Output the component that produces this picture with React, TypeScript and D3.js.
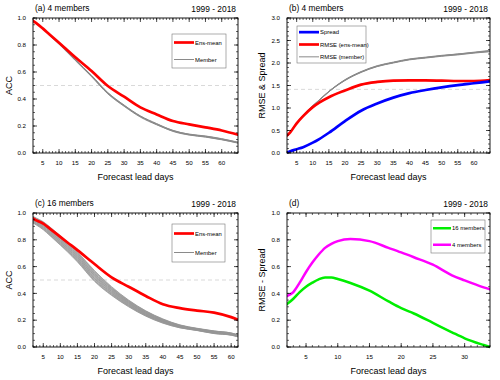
import React from "react";
import * as d3 from "d3";

// ---------- DATA ----------
const daysAB = [2, 3, 5, 7, 10, 12, 15, 20, 25, 30, 35, 40, 45, 50, 55, 60, 65];
const ensMeanA = [0.978, 0.962, 0.923, 0.88, 0.817, 0.774, 0.709, 0.607, 0.496, 0.417, 0.338, 0.286, 0.237, 0.212, 0.19, 0.167, 0.136];
const memberA1 = [0.977, 0.96, 0.921, 0.876, 0.81, 0.763, 0.69, 0.572, 0.445, 0.352, 0.272, 0.215, 0.168, 0.138, 0.124, 0.104, 0.078];
const memberA2 = [0.976, 0.959, 0.919, 0.873, 0.806, 0.758, 0.685, 0.565, 0.438, 0.346, 0.266, 0.209, 0.163, 0.135, 0.12, 0.1, 0.075];
const memberA3 = [0.977, 0.96, 0.92, 0.875, 0.808, 0.761, 0.688, 0.568, 0.442, 0.35, 0.27, 0.212, 0.16, 0.133, 0.118, 0.098, 0.073];
const memberA4 = [0.978, 0.961, 0.922, 0.877, 0.811, 0.764, 0.692, 0.575, 0.448, 0.355, 0.275, 0.218, 0.166, 0.14, 0.126, 0.106, 0.08];

const spreadB = [0.015, 0.04, 0.085, 0.13, 0.23, 0.31, 0.45, 0.71, 0.94, 1.1, 1.23, 1.33, 1.4, 1.46, 1.51, 1.55, 1.59];
const rmseMeanB = [0.39, 0.46, 0.66, 0.82, 1.02, 1.12, 1.24, 1.39, 1.52, 1.58, 1.61, 1.615, 1.615, 1.61, 1.6, 1.6, 1.62];
const rmseMemB1 = [0.4, 0.47, 0.67, 0.83, 1.05, 1.17, 1.36, 1.62, 1.8, 1.93, 2.01, 2.08, 2.12, 2.16, 2.19, 2.23, 2.26];
const rmseMemB2 = [0.4, 0.47, 0.67, 0.84, 1.05, 1.18, 1.37, 1.63, 1.81, 1.94, 2.02, 2.09, 2.13, 2.17, 2.2, 2.24, 2.28];
const rmseMemB3 = [0.4, 0.47, 0.67, 0.83, 1.04, 1.17, 1.36, 1.61, 1.79, 1.92, 2.0, 2.07, 2.11, 2.15, 2.18, 2.22, 2.25];
const rmseMemB4 = [0.4, 0.47, 0.67, 0.84, 1.05, 1.18, 1.37, 1.62, 1.8, 1.93, 2.01, 2.08, 2.12, 2.16, 2.2, 2.23, 2.27];

const daysC = [2, 3, 5, 7, 10, 12, 15, 20, 25, 30, 35, 40, 45, 50, 55, 60, 62];
const ensMeanC = [0.96, 0.945, 0.921, 0.882, 0.822, 0.782, 0.723, 0.619, 0.52, 0.45, 0.381, 0.319, 0.29, 0.272, 0.257, 0.223, 0.203];
const memberC1 = [0.975, 0.962, 0.935, 0.895, 0.83, 0.785, 0.71, 0.57, 0.45, 0.35, 0.27, 0.21, 0.165, 0.14, 0.12, 0.105, 0.092];
const memberC2 = [0.972, 0.958, 0.931, 0.89, 0.825, 0.78, 0.705, 0.565, 0.445, 0.347, 0.268, 0.207, 0.163, 0.138, 0.119, 0.104, 0.09];
const memberC3 = [0.968, 0.955, 0.927, 0.887, 0.821, 0.776, 0.7, 0.56, 0.44, 0.343, 0.265, 0.205, 0.162, 0.137, 0.118, 0.103, 0.089];
const memberC4 = [0.965, 0.952, 0.923, 0.882, 0.816, 0.77, 0.695, 0.554, 0.437, 0.34, 0.262, 0.204, 0.16, 0.136, 0.116, 0.101, 0.088];
const memberC5 = [0.962, 0.948, 0.919, 0.877, 0.811, 0.765, 0.69, 0.548, 0.432, 0.337, 0.259, 0.201, 0.159, 0.135, 0.115, 0.1, 0.087];
const memberC6 = [0.958, 0.945, 0.915, 0.873, 0.807, 0.761, 0.685, 0.543, 0.428, 0.333, 0.257, 0.199, 0.157, 0.134, 0.114, 0.099, 0.086];
const memberC7 = [0.955, 0.941, 0.911, 0.869, 0.802, 0.756, 0.68, 0.538, 0.424, 0.33, 0.254, 0.197, 0.156, 0.133, 0.112, 0.098, 0.085];
const memberC8 = [0.952, 0.938, 0.907, 0.864, 0.797, 0.751, 0.675, 0.532, 0.419, 0.327, 0.251, 0.195, 0.155, 0.132, 0.111, 0.097, 0.084];
const memberC9 = [0.948, 0.934, 0.903, 0.86, 0.793, 0.746, 0.67, 0.528, 0.415, 0.324, 0.249, 0.193, 0.153, 0.131, 0.109, 0.096, 0.083];
const memberC10 = [0.945, 0.931, 0.899, 0.856, 0.788, 0.741, 0.665, 0.522, 0.411, 0.32, 0.246, 0.191, 0.152, 0.13, 0.108, 0.095, 0.082];
const memberC11 = [0.942, 0.927, 0.895, 0.851, 0.783, 0.736, 0.66, 0.516, 0.406, 0.317, 0.243, 0.189, 0.15, 0.129, 0.107, 0.094, 0.081];
const memberC12 = [0.938, 0.924, 0.891, 0.847, 0.779, 0.732, 0.655, 0.511, 0.402, 0.313, 0.241, 0.187, 0.149, 0.128, 0.105, 0.093, 0.08];
const memberC13 = [0.935, 0.92, 0.887, 0.843, 0.774, 0.727, 0.65, 0.506, 0.398, 0.31, 0.238, 0.185, 0.147, 0.126, 0.104, 0.091, 0.079];
const memberC14 = [0.932, 0.917, 0.883, 0.838, 0.769, 0.722, 0.645, 0.5, 0.393, 0.307, 0.235, 0.183, 0.146, 0.125, 0.103, 0.09, 0.078];
const memberC15 = [0.928, 0.913, 0.879, 0.834, 0.765, 0.717, 0.64, 0.495, 0.389, 0.303, 0.233, 0.18, 0.144, 0.124, 0.101, 0.089, 0.077];
const memberC16 = [0.925, 0.91, 0.875, 0.83, 0.76, 0.712, 0.635, 0.49, 0.385, 0.3, 0.23, 0.178, 0.143, 0.123, 0.1, 0.088, 0.075];

const daysD = [2, 3, 4, 5, 6, 7, 8, 9, 10, 12, 15, 18, 20, 22, 25, 28, 30, 33, 34];
const diff16 = [0.32, 0.36, 0.41, 0.45, 0.48, 0.505, 0.518, 0.518, 0.507, 0.478, 0.42, 0.34, 0.29, 0.25, 0.18, 0.11, 0.065, 0.015, 0.0];
const diff4 = [0.38, 0.41, 0.48, 0.56, 0.63, 0.69, 0.74, 0.77, 0.79, 0.806, 0.79, 0.74, 0.706, 0.67, 0.614, 0.535, 0.497, 0.445, 0.43];

const titles = ["(a) 4 members", "(b) 4 members", "(c) 16 members", "(d)"];
const periodLabel = "1999 - 2018";
const xTitle = "Forecast lead days";
const yTitles = ["ACC", "RMSE & Spread", "ACC", "RMSE - Spread"];
const legendA = ["Ens-mean", "Member"];
const legendB = ["Spread", "RMSE (ens-mean)", "RMSE (member)"];
const legendD = ["16 members", "4 members"];

// ---------- STYLE ----------
const FONT = "'Liberation Sans', Arial, Helvetica, sans-serif";
const RED = "#ff0000";
const BLUE = "#0000ff";
const GRAY = "#8a8a8a";
const GREEN = "#00ee00";
const MAGENTA = "#ff00ff";

type Series = { xs: number[]; ys: number[]; color: string; width: number };
type LegendItem = { label: string; color: string; width: number };

type PanelProps = {
  box: [number, number, number, number];
  xDomain: [number, number];
  yDomain: [number, number];
  xMajor: number[];
  yStep: number;
  yMinorStep: number;
  yDecimals: number;
  title: string;
  yTitle: string;
  yTitleX: number;
  series: Series[];
  dashY?: number;
  legend: LegendItem[];
  legendBox: [number, number, number, number];
  legendLineLen: number;
};

function Panel(p: PanelProps) {
  const [L, T, R, B] = p.box;
  const x = d3.scaleLinear().domain(p.xDomain).range([L, R]);
  const y = d3.scaleLinear().domain(p.yDomain).range([B, T]);
  const xMinor = d3.range(Math.ceil(p.xDomain[0]), Math.floor(p.xDomain[1]) + 1);
  const nY = Math.round((p.yDomain[1] - p.yDomain[0]) / p.yStep);
  const yMajor = d3.range(nY + 1).map((i) => p.yDomain[0] + i * p.yStep);
  const nYm = Math.round((p.yDomain[1] - p.yDomain[0]) / p.yMinorStep);
  const yMinor = d3.range(nYm + 1).map((i) => p.yDomain[0] + i * p.yMinorStep);
  const line = d3
    .line<[number, number]>()
    .x((d) => x(d[0]))
    .y((d) => y(d[1]))
    .curve(d3.curveMonotoneX);
  const MJ = 4;
  const MN = 2;
  const [lx0, ly0, lx1, ly1] = p.legendBox;
  const nL = p.legend.length;
  const rowH = (ly1 - ly0) / nL;
  const clipId = "clip" + p.title.replace(/[^a-z0-9]/gi, "");
  return (
    <g>
      <defs>
        <clipPath id={clipId}>
          <rect x={L} y={T - 2} width={R - L} height={B - T + 4} />
        </clipPath>
      </defs>
      {p.dashY !== undefined && (
        <line x1={L} x2={R} y1={y(p.dashY)} y2={y(p.dashY)} stroke="#cfcfcf" strokeWidth={0.8} strokeDasharray="4,3" />
      )}
      <g clipPath={`url(#${clipId})`}>
        {p.series.map((s, i) => (
          <path
            key={i}
            d={line(s.xs.map((v, j) => [v, s.ys[j]]) as [number, number][]) || ""}
            fill="none"
            stroke={s.color}
            strokeWidth={s.width}
            strokeLinejoin="round"
            strokeLinecap="round"
          />
        ))}
      </g>
      {xMinor.map((v) => (
        <g key={"xm" + v}>
          <line x1={x(v)} x2={x(v)} y1={B} y2={B - MN} stroke="#000" strokeWidth={0.6} />
          <line x1={x(v)} x2={x(v)} y1={T} y2={T + MN} stroke="#000" strokeWidth={0.6} />
        </g>
      ))}
      {p.xMajor.map((v) => (
        <g key={"xM" + v}>
          <line x1={x(v)} x2={x(v)} y1={B} y2={B - MJ} stroke="#000" strokeWidth={0.7} />
          <line x1={x(v)} x2={x(v)} y1={T} y2={T + MJ} stroke="#000" strokeWidth={0.7} />
          <text x={x(v)} y={B + 12} fontSize={6.2} textAnchor="middle" fontFamily={FONT} fill="#000">
            {v}
          </text>
        </g>
      ))}
      {yMinor.map((v, i) => (
        <g key={"ym" + i}>
          <line x1={L} x2={L + MN} y1={y(v)} y2={y(v)} stroke="#000" strokeWidth={0.6} />
          <line x1={R} x2={R - MN} y1={y(v)} y2={y(v)} stroke="#000" strokeWidth={0.6} />
        </g>
      ))}
      {yMajor.map((v, i) => (
        <g key={"yM" + i}>
          <line x1={L} x2={L + MJ} y1={y(v)} y2={y(v)} stroke="#000" strokeWidth={0.7} />
          <line x1={R} x2={R - MJ} y1={y(v)} y2={y(v)} stroke="#000" strokeWidth={0.7} />
          <text x={L - 7} y={y(v) + 2.2} fontSize={6.2} textAnchor="end" fontFamily={FONT} fill="#000">
            {v.toFixed(p.yDecimals)}
          </text>
        </g>
      ))}
      <rect x={L} y={T} width={R - L} height={B - T} fill="none" stroke="#000" strokeWidth={0.9} />
      <text x={L + 2} y={T - 7} fontSize={8.4} fontFamily={FONT} fill="#000">
        {p.title}
      </text>
      <text x={R - 2} y={T - 6} fontSize={8.4} fontFamily={FONT} fill="#000" textAnchor="end">
        {periodLabel}
      </text>
      <text x={(L + R) / 2} y={B + 27} fontSize={9} fontFamily={FONT} fill="#000" textAnchor="middle">
        {xTitle}
      </text>
      <text
        x={p.yTitleX}
        y={(T + B) / 2}
        fontSize={9}
        fontFamily={FONT}
        fill="#000"
        textAnchor="middle"
        transform={`rotate(-90 ${p.yTitleX} ${(T + B) / 2})`}
      >
        {p.yTitle}
      </text>
      <rect x={lx0} y={ly0} width={lx1 - lx0} height={ly1 - ly0} fill="#fff" stroke="#777" strokeWidth={0.6} />
      {p.legend.map((it, i) => {
        const cy = ly0 + rowH * (i + 0.5);
        return (
          <g key={"lg" + i}>
            <line x1={lx0 + 2} x2={lx0 + 2 + p.legendLineLen} y1={cy} y2={cy} stroke={it.color} strokeWidth={it.width} />
            <text x={lx0 + 3 + p.legendLineLen} y={cy + 2.1} fontSize={5.9} fontFamily={FONT} fill="#000">
              {it.label}
            </text>
          </g>
        );
      })}
    </g>
  );
}

export default function App() {
  const membersA = [memberA1, memberA2, memberA3, memberA4];
  const membersB = [rmseMemB1, rmseMemB2, rmseMemB3, rmseMemB4];
  const membersC = [
    memberC1, memberC2, memberC3, memberC4, memberC5, memberC6, memberC7, memberC8,
    memberC9, memberC10, memberC11, memberC12, memberC13, memberC14, memberC15, memberC16,
  ];
  const ticks5 = d3.range(5, 61, 5);
  return (
    <svg
      width={500}
      height={380}
      style={{ position: "absolute", left: 0, top: 0, background: "#fff" }}
      xmlns="http://www.w3.org/2000/svg"
    >
      <rect x={0} y={0} width={500} height={380} fill="#fff" />
      <Panel
        box={[33, 18, 238, 153]}
        xDomain={[2, 65]}
        yDomain={[0, 1]}
        xMajor={ticks5}
        yStep={0.2}
        yMinorStep={0.05}
        yDecimals={1}
        title={titles[0]}
        yTitle={yTitles[0]}
        yTitleX={12}
        dashY={0.5}
        series={[
          ...membersA.map((m) => ({ xs: daysAB, ys: m, color: GRAY, width: 1.0 })),
          { xs: daysAB, ys: ensMeanA, color: RED, width: 2.7 },
        ]}
        legend={[
          { label: legendA[0], color: RED, width: 2.7 },
          { label: legendA[1], color: GRAY, width: 1.0 },
        ]}
        legendBox={[172, 34, 226, 68]}
        legendLineLen={20}
      />
      <Panel
        box={[287, 18, 490, 153]}
        xDomain={[2, 65]}
        yDomain={[0, 3]}
        xMajor={ticks5}
        yStep={0.5}
        yMinorStep={0.1}
        yDecimals={1}
        title={titles[1]}
        yTitle={yTitles[1]}
        yTitleX={265}
        dashY={Math.SQRT2}
        series={[
          ...membersB.map((m) => ({ xs: daysAB, ys: m, color: GRAY, width: 1.0 })),
          { xs: daysAB, ys: rmseMeanB, color: RED, width: 2.7 },
          { xs: daysAB, ys: spreadB, color: BLUE, width: 2.7 },
        ]}
        legend={[
          { label: legendB[0], color: BLUE, width: 2.7 },
          { label: legendB[1], color: RED, width: 2.7 },
          { label: legendB[2], color: GRAY, width: 1.0 },
        ]}
        legendBox={[297, 26, 366, 63]}
        legendLineLen={20}
      />
      <Panel
        box={[33, 213, 238, 347]}
        xDomain={[2, 62]}
        yDomain={[0, 1]}
        xMajor={ticks5}
        yStep={0.2}
        yMinorStep={0.05}
        yDecimals={1}
        title={titles[2]}
        yTitle={yTitles[2]}
        yTitleX={12}
        dashY={0.5}
        series={[
          ...membersC.map((m) => ({ xs: daysC, ys: m, color: "#959595", width: 0.8 })),
          { xs: daysC, ys: ensMeanC, color: RED, width: 2.7 },
        ]}
        legend={[
          { label: legendA[0], color: RED, width: 2.7 },
          { label: legendA[1], color: GRAY, width: 1.0 },
        ]}
        legendBox={[172, 224, 225, 262]}
        legendLineLen={20}
      />
      <Panel
        box={[287, 213, 490, 347]}
        xDomain={[2, 34]}
        yDomain={[0, 1]}
        xMajor={d3.range(5, 31, 5)}
        yStep={0.2}
        yMinorStep={0.05}
        yDecimals={1}
        title={titles[3]}
        yTitle={yTitles[3]}
        yTitleX={265}
        series={[
          { xs: daysD, ys: diff16, color: GREEN, width: 2.5 },
          { xs: daysD, ys: diff4, color: MAGENTA, width: 2.5 },
        ]}
        legend={[
          { label: legendD[0], color: GREEN, width: 2.5 },
          { label: legendD[1], color: MAGENTA, width: 2.5 },
        ]}
        legendBox={[431, 220, 485, 253]}
        legendLineLen={18}
      />
    </svg>
  );
}
